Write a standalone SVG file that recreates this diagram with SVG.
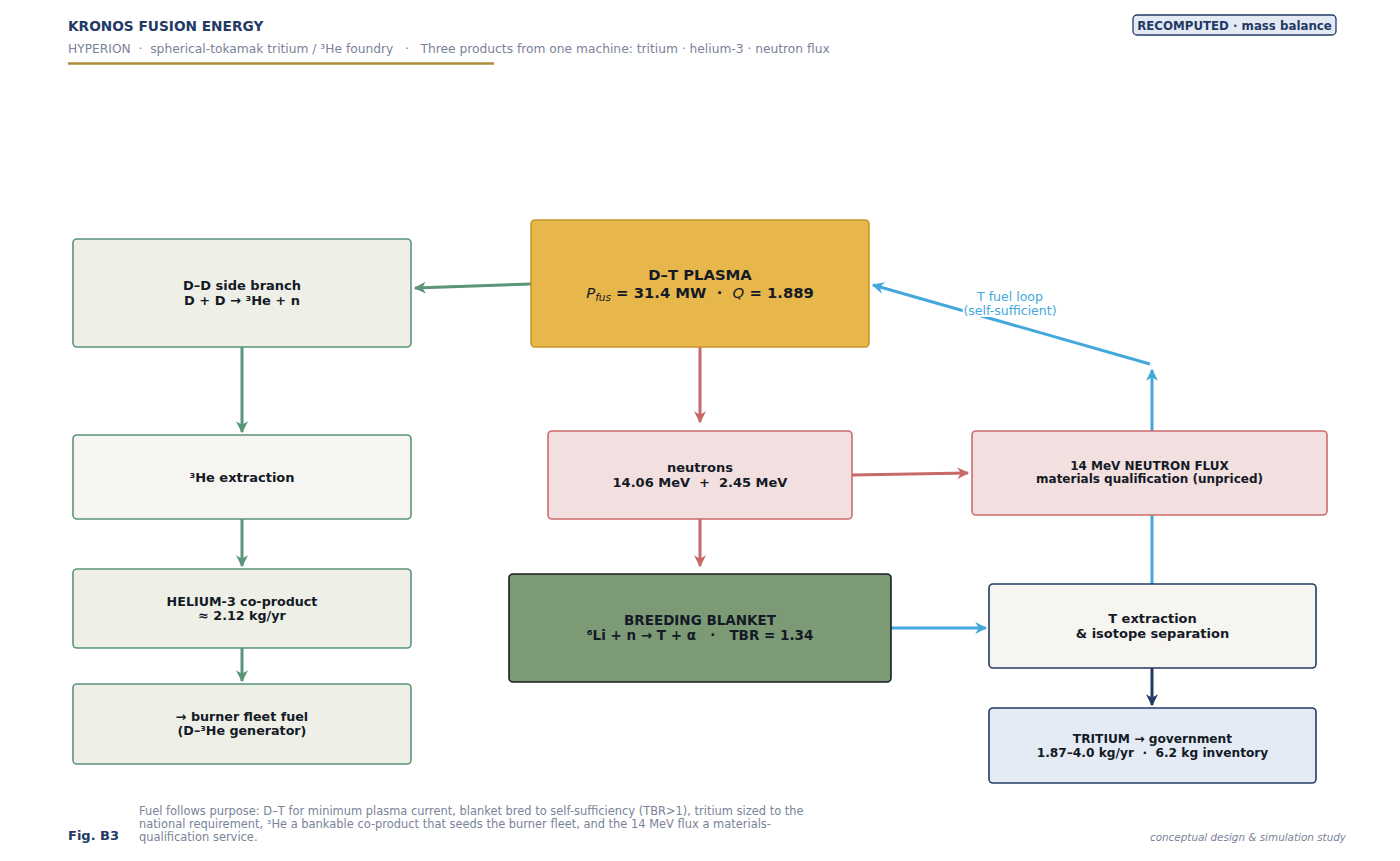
<svg xmlns="http://www.w3.org/2000/svg" width="1400" height="861" viewBox="0 0 1400 861">
<style>
text{font-family:"DejaVu Sans","Liberation Sans",sans-serif}
.nb{font-weight:bold;fill:#141a26;text-anchor:middle}
.box{stroke-width:1.6}
.g{fill:#eef0e8;stroke:#5a9479}
.w{fill:#f6f5f1}
.r{fill:#f2dfdf;stroke:#cc6b6b}
.cg{stroke:#5a9479;stroke-width:3;fill:none}
.cr{stroke:#c86868;stroke-width:3;fill:none}
.cb{stroke:#44a8dc;stroke-width:3;fill:none}
.cn{stroke:#233a66;stroke-width:3;fill:none}
</style>
<defs>
<marker id="ag" viewBox="0 0 10 10" refX="9" refY="5" markerWidth="4" markerHeight="4" orient="auto"><path d="M0,0 L10,5 L0,10 L3,5 z" fill="#5a9479"/></marker>
<marker id="ar" viewBox="0 0 10 10" refX="9" refY="5" markerWidth="4" markerHeight="4" orient="auto"><path d="M0,0 L10,5 L0,10 L3,5 z" fill="#c86868"/></marker>
<marker id="ab" viewBox="0 0 10 10" refX="9" refY="5" markerWidth="4" markerHeight="4" orient="auto"><path d="M0,0 L10,5 L0,10 L3,5 z" fill="#44a8dc"/></marker>
<marker id="an" viewBox="0 0 10 10" refX="9" refY="5" markerWidth="4" markerHeight="4" orient="auto"><path d="M0,0 L10,5 L0,10 L3,5 z" fill="#233a66"/></marker>
</defs>
<rect width="1400" height="861" fill="#ffffff"/>
<g id="header">
<text x="68" y="31" font-size="13.7" font-weight="bold" fill="#233a66">KRONOS FUSION ENERGY</text>
<text x="68" y="53" font-size="12.25" fill="#7a8399" xml:space="preserve">HYPERION  ·  spherical-tokamak tritium / ³He foundry   ·   Three products from one machine: tritium · helium-3 · neutron flux</text>
<line x1="68" y1="63.5" x2="494" y2="63.5" stroke="#b08d3c" stroke-width="2.5"/>
<rect x="1133" y="15" width="203" height="20" rx="4" fill="#e3eaf4" stroke="#233a66" stroke-width="1.3"/>
<text x="1234.5" y="29.5" font-size="11.8" font-weight="bold" fill="#233a66" text-anchor="middle">RECOMPUTED · mass balance</text>
</g>
<g id="connectors">
<line class="cg" x1="531" y1="284" x2="415" y2="288" marker-end="url(#ag)"/>
<line class="cg" x1="242" y1="347" x2="242" y2="432" marker-end="url(#ag)"/>
<line class="cg" x1="242" y1="519" x2="242" y2="566" marker-end="url(#ag)"/>
<line class="cg" x1="242" y1="648" x2="242" y2="681" marker-end="url(#ag)"/>
<line class="cr" x1="700" y1="347" x2="700" y2="422" marker-end="url(#ar)"/>
<line class="cr" x1="700" y1="519" x2="700" y2="566" marker-end="url(#ar)"/>
<line class="cr" x1="852" y1="475" x2="968" y2="473" marker-end="url(#ar)"/>
<line class="cb" x1="891" y1="628" x2="986" y2="628" marker-end="url(#ab)"/>
<line class="cb" x1="1152" y1="584" x2="1152" y2="370" marker-end="url(#ab)"/>
<line class="cb" x1="1150" y1="364" x2="873" y2="285" marker-end="url(#ab)"/>
<line class="cn" x1="1152" y1="668" x2="1152" y2="705" marker-end="url(#an)"/>
<g font-size="12.5" fill="#44a8dc" text-anchor="middle" stroke="#ffffff" stroke-width="4" paint-order="stroke" stroke-linejoin="round">
<text x="1010" y="301">T fuel loop</text>
<text x="1010" y="315">(self-sufficient)</text>
</g>
</g>
<g id="n-dd">
<rect class="box g" x="73" y="239" width="338" height="108" rx="4"/>
<text class="nb" x="242" y="290" font-size="13">D–D side branch</text>
<text class="nb" x="242" y="305" font-size="13">D + D → ³He + n</text>
</g>
<g id="n-plasma">
<rect class="box" x="531" y="220" width="338" height="127" rx="4" fill="#e7b74b" stroke="#c8952a"/>
<text class="nb" x="700" y="280" font-size="14.8">D–T PLASMA</text>
<text class="nb" x="700" y="298" font-size="14.8" xml:space="preserve"><tspan font-style="italic" font-weight="normal">P</tspan><tspan font-style="italic" font-weight="normal" font-size="10.5" dy="3">fus</tspan><tspan dy="-3"> = 31.4 MW  ·  </tspan><tspan font-style="italic" font-weight="normal">Q</tspan> = 1.889</text>
</g>
<g id="n-he3x">
<rect class="box w" x="73" y="435" width="338" height="84" rx="4" stroke="#5a9479"/>
<text class="nb" x="242" y="482" font-size="13">³He extraction</text>
</g>
<g id="n-neutrons">
<rect class="box r" x="548" y="431" width="304" height="88" rx="4"/>
<text class="nb" x="700" y="472" font-size="13" fill="#8b2e2e">neutrons</text>
<text class="nb" x="700" y="487" font-size="13" fill="#8b2e2e" xml:space="preserve">14.06 MeV  +  2.45 MeV</text>
</g>
<g id="n-flux">
<rect class="box r" x="972" y="431" width="355" height="84" rx="4"/>
<text class="nb" x="1149.5" y="470" font-size="12" fill="#8b2e2e">14 MeV NEUTRON FLUX</text>
<text class="nb" x="1149.5" y="483" font-size="12" fill="#8b2e2e">materials qualification (unpriced)</text>
</g>
<g id="n-he3">
<rect class="box g" x="73" y="569" width="338" height="79" rx="4"/>
<text class="nb" x="242" y="606" font-size="12.7">HELIUM-3 co-product</text>
<text class="nb" x="242" y="620" font-size="12.7">≈ 2.12 kg/yr</text>
</g>
<g id="n-blanket">
<rect class="box" x="509" y="574" width="382" height="108" rx="4" fill="#7d9a76" stroke="#1a1f26"/>
<text class="nb" x="700" y="625" font-size="13.5" fill="#ffffff">BREEDING BLANKET</text>
<text class="nb" x="700" y="640" font-size="13.5" fill="#ffffff" xml:space="preserve">⁶Li + n → T + α   ·   TBR = 1.34</text>
</g>
<g id="n-textract">
<rect class="box w" x="989" y="584" width="327" height="84" rx="4" stroke="#233a66"/>
<text class="nb" x="1152.5" y="623" font-size="13">T extraction</text>
<text class="nb" x="1152.5" y="638" font-size="13">&amp; isotope separation</text>
</g>
<g id="n-burner">
<rect class="box g" x="73" y="684" width="338" height="80" rx="4"/>
<text class="nb" x="242" y="721" font-size="12.7">→ burner fleet fuel</text>
<text class="nb" x="242" y="735" font-size="12.7">(D–³He generator)</text>
</g>
<g id="n-tritium">
<rect class="box" x="989" y="708" width="327" height="75" rx="4" fill="#e4ebf5" stroke="#233a66"/>
<text class="nb" x="1152.5" y="743" font-size="12.2">TRITIUM → government</text>
<text class="nb" x="1152.5" y="757" font-size="12.2" xml:space="preserve">1.87–4.0 kg/yr  ·  6.2 kg inventory</text>
</g>
<g id="footer">
<text x="68" y="840" font-size="13" font-weight="bold" fill="#233a66">Fig. B3</text>
<text x="139" y="815" font-size="11.45" fill="#7a8399">Fuel follows purpose: D–T for minimum plasma current, blanket bred to self-sufficiency (TBR&gt;1), tritium sized to the</text>
<text x="139" y="828" font-size="11.45" fill="#7a8399">national requirement, ³He a bankable co-product that seeds the burner fleet, and the 14 MeV flux a materials-</text>
<text x="139" y="841" font-size="11.45" fill="#7a8399">qualification service.</text>
<text x="1346" y="841" font-size="10.4" font-style="italic" fill="#7a8399" text-anchor="end">conceptual design &amp; simulation study</text>
</g>
</svg>
